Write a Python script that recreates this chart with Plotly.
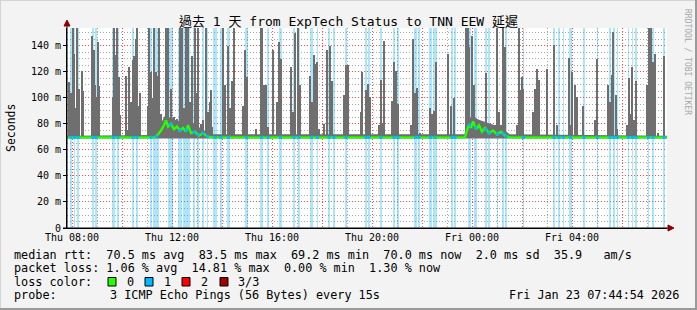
import numpy as np
import pandas as pd
import plotly.graph_objects as go

T0 = pd.Timestamp("2026-01-22 00:00:00")   # Thu 00:00
X_START_H, X_END_H = 7.8, 31.8               # Thu 07:48 -> Fri 07:48
Y_TOP = 153.8                                 # ms

# ---- smoke spikes: hour since Thu 00:00, max rtt (ms) ----
spike_h = [7.90, 7.96, 8.06, 8.10, 8.16, 8.22, 8.28, 8.40, 8.44, 8.82, 8.88, 8.94, 9.00, 9.04, 9.08,
           9.64, 9.68, 9.76, 9.82, 9.88, 9.94, 10.18, 10.24, 10.30, 10.36, 10.44, 10.50, 10.56, 10.62,
           10.68, 10.74, 11.04, 11.10, 11.16, 11.24, 11.30, 11.36, 11.44, 11.50, 11.56, 11.64, 11.78,
           11.86, 11.96, 12.08, 12.20, 12.32, 12.40, 12.48, 12.56, 12.64, 12.72, 12.80, 12.92, 13.00,
           13.06, 13.16, 13.24, 13.36, 13.44, 13.52, 13.56, 13.60, 14.06, 14.14, 14.24, 14.32, 14.40,
           14.50, 14.84, 14.92, 15.00, 15.36, 15.56, 15.62, 15.70, 15.78, 15.84, 16.06, 16.20, 16.28,
           16.36, 16.76, 16.84, 16.92, 17.04, 17.12, 17.52, 17.60, 17.68, 17.76, 17.82, 17.88, 18.08,
           18.22, 18.32, 18.40, 18.88, 18.96, 19.04, 19.56, 19.60, 19.76, 19.84, 19.92, 20.28, 20.36,
           20.44, 20.50, 20.82, 20.90, 20.98, 21.04, 21.56, 21.64, 21.74, 21.82, 21.92, 22.32, 22.40,
           22.48, 22.56, 23.06, 23.16, 23.28, 23.78, 23.84, 23.90, 24.00, 24.08, 24.54, 24.58, 24.92,
           25.02, 25.08, 25.16, 25.24, 25.32, 25.80, 25.88, 25.94, 26.00, 26.06, 26.44, 26.52, 26.60,
           26.68, 27.00, 27.28, 27.40, 27.88, 27.98, 28.02, 28.12, 28.20, 28.46, 28.92, 29.02, 29.46,
           29.52, 29.60, 29.66, 29.76, 29.82, 30.20, 30.28, 30.36, 30.42, 30.48, 30.56, 31.02, 31.06,
           31.10, 31.16, 31.24, 31.34, 31.44, 31.70]
spike_ms = [112, 104, 200, 134, 92, 200, 107, 121, 105, 148, 137, 110, 101, 143, 109,
            101, 200, 133, 200, 116, 87, 117, 75, 124, 97, 129, 132, 145, 200,
            94, 104, 94, 200, 120, 100, 200, 120, 117, 200, 88, 80, 200,
            200, 107, 85, 84, 200, 200, 92, 200, 200, 97, 132, 200, 104,
            200, 80, 83, 200, 89, 97, 106, 78, 200, 110, 140, 92, 113,
            200, 94, 137, 116, 76, 200, 200, 110, 110, 78, 137, 97, 143,
            130, 124, 89, 150, 200, 110, 117, 97, 133, 126, 128, 76, 80,
            137, 140, 113, 102, 125, 125, 89, 120, 106, 111, 101, 79, 114,
            80, 144, 98, 128, 121, 95, 79, 145, 104, 108, 73, 92, 88,
            90, 128, 134, 94, 100, 200, 200, 139, 148, 110, 79, 119, 79,
            200, 89, 79, 200, 139, 79, 200, 106, 116, 107, 89, 107, 122,
            114, 122, 141, 79, 131, 79, 120, 110, 101, 94, 83, 130, 110,
            97, 118, 151, 102, 76, 79, 115, 88, 124, 83, 113, 110, 95,
            200, 200, 128, 134, 73, 132]

# ---- periods with 1 lost packet (hour since Thu 00:00) ----
loss_start_h = [7.92, 8.08, 8.20, 8.80, 8.92, 9.60, 9.80, 10.40, 10.56, 11.12, 11.24, 11.84, 12.24,
                12.44, 12.84, 13.00, 13.20, 13.40, 13.64, 13.92, 14.20, 14.92, 15.52, 15.80, 16.28,
                16.84, 17.04, 17.52, 17.80, 18.24, 18.44, 18.92, 19.72, 19.84, 20.32, 20.84, 21.00,
                21.68, 21.84, 22.28, 22.44, 23.16, 23.28, 23.84, 24.08, 24.52, 24.64, 25.00, 25.20,
                25.32, 26.04, 27.24, 27.44, 27.64, 27.88, 28.44, 29.00, 29.48, 29.64, 29.80, 30.24,
                30.40, 30.52, 31.04, 31.20, 31.64]
loss_end_h = [8.00, 8.12, 8.28, 8.88, 9.00, 9.72, 9.88, 10.48, 10.64, 11.20, 11.48, 12.04, 12.40,
              12.72, 12.92, 13.08, 13.28, 13.44, 13.80, 14.00, 14.32, 15.04, 15.64, 15.88, 16.40,
              16.92, 17.12, 17.64, 17.84, 18.32, 18.52, 19.00, 19.80, 19.92, 20.40, 20.92, 21.08,
              21.80, 21.92, 22.40, 22.60, 23.24, 23.36, 23.96, 24.20, 24.60, 24.72, 25.04, 25.28,
              25.40, 26.08, 27.32, 27.52, 27.68, 28.00, 28.52, 29.04, 29.56, 29.72, 29.84, 30.28,
              30.44, 30.60, 31.08, 31.28, 31.72]

# ---- median rtt line ----
median_h = [7.80, 11.32, 11.44, 11.56, 11.68, 11.76, 11.84, 11.96, 12.08, 12.20, 12.32, 12.44, 12.56,
            12.64, 12.76, 12.92, 13.08, 13.24, 13.40, 13.60, 23.72, 23.80, 23.88, 23.96, 24.04, 24.16,
            24.28, 24.40, 24.52, 24.68, 24.84, 25.00, 25.16, 25.32, 25.52, 31.80]
median_ms = [69.7, 69.7, 72, 75, 79, 83, 78, 80, 76, 78, 75, 77, 74,
             79, 73, 74, 71, 73, 70.5, 69.7, 69.7, 74, 80, 77, 82, 76,
             79, 74, 77, 73, 75, 72, 74, 71, 69.7, 69.7]

# ---- low smoke envelope ----
smoke_env_h = [7.80, 11.30, 11.50, 11.70, 12.00, 12.30, 12.60, 12.90, 13.20, 13.60, 23.70, 23.85,
               24.00, 24.30, 24.60, 24.90, 25.20, 25.50, 31.80]
smoke_env_ms = [71, 71.5, 78, 86, 84, 82, 84, 80, 76, 72, 72, 84, 86, 83, 81, 79, 77, 72, 71]

x_tick_h = [8, 10, 12, 14, 16, 18, 20, 22, 24, 26, 28, 30]
x_tick_text = ["Thu 08:00", "", "Thu 12:00", "", "Thu 16:00", "", "Thu 20:00", "",
               "Fri 00:00", "", "Fri 04:00", ""]
x_minor_h = [9, 11, 13, 15, 17, 19, 21, 23, 25, 27, 29, 31]
y_tick_ms = [0, 20, 40, 60, 80, 100, 120, 140]
y_tick_text = ["0", "20 m", "40 m", "60 m", "80 m", "100 m", "120 m", "140 m"]
y_minor_ms = [5, 10, 15, 25, 30, 35, 45, 50, 55, 65, 70, 75, 85, 90, 95,
              105, 110, 115, 125, 130, 135, 145, 150]

legend_lines = [
    "median rtt:  70.5 ms avg  83.5 ms max  69.2 ms min  70.0 ms now  2.0 ms sd  35.9   am/s",
    "packet loss: 1.06 % avg  14.81 % max  0.00 % min  1.30 % now",
]
loss_labels = ["0", "1", "2", "3/3"]
loss_colors = ["#26ff00", "#00b8ff", "#ff0000", "#a00000"]
probe_text = "3 ICMP Echo Pings (56 Bytes) every 15s"
stamp_text = "Fri Jan 23 07:44:54 2026"
title_text = "過去 1 天 from ExpTech Status to TNN EEW 延遲"

# ---------------------------------------------------------------
W, H = 697, 310
L, R, T, B = 67, 30, 28, 82
PW, PH = W - L - R, H - T - B
MONO = "DejaVu Sans Mono, Noto Sans CJK TC, monospace"
DOT = "1px,2px"
MAJOR_GRID = "#ff4a4a"
MINOR_GRID = "#a8a8a8"


def dt(hs):
    return [T0 + pd.Timedelta(hours=float(h)) for h in hs]


def px(x):   # pixel x -> paper
    return (x - L) / PW


def py(y):   # pixel y -> paper
    return (T + PH - y) / PH


HOUR_MS = 3600 * 1000
fig = go.Figure()

# loss bands
ls = np.array(loss_start_h)
le = np.array(loss_end_h)
fig.add_trace(go.Bar(x=dt((ls + le) / 2), y=[Y_TOP] * len(ls), base=0,
                     width=list((le - ls) * HOUR_MS),
                     marker=dict(color="rgba(0,178,240,0.32)", line=dict(width=0)),
                     hoverinfo="skip", showlegend=False))

# low smoke envelope
fig.add_trace(go.Scatter(x=dt(smoke_env_h), y=[68.8] * len(smoke_env_h), mode="lines",
                         line=dict(width=0), showlegend=False, hoverinfo="skip"))
fig.add_trace(go.Scatter(x=dt(smoke_env_h), y=smoke_env_ms, mode="lines", fill="tonexty",
                         fillcolor="#6f6f6f", line=dict(width=0), showlegend=False,
                         hoverinfo="skip"))

# smoke spikes
BASE = 69.0
fig.add_trace(go.Bar(x=dt(spike_h), y=[v - BASE for v in spike_ms], base=BASE,
                     width=0.07 * HOUR_MS,
                     marker=dict(color="#6f6f6f", line=dict(width=0)),
                     hoverinfo="skip", showlegend=False))

# median line (dark trace under the loss-coloured median)
fig.add_trace(go.Scatter(x=dt(median_h), y=median_ms, mode="lines",
                         line=dict(color="#1a1a1a", width=1.2), showlegend=False,
                         hoverinfo="skip"))
fig.add_trace(go.Scatter(x=dt(median_h), y=median_ms, mode="lines",
                         line=dict(color="#26ff00", width=2.4), showlegend=False,
                         hoverinfo="skip"))
lc = (ls + le) / 2
fig.add_trace(go.Scatter(x=dt(lc), y=np.interp(lc, median_h, median_ms), mode="markers",
                         marker=dict(color="#00b8ff", size=3, symbol="square"),
                         showlegend=False, hoverinfo="skip"))

fig.update_layout(
    width=W, height=H, autosize=False,
    margin=dict(l=L, r=R, t=T, b=B, pad=0),
    paper_bgcolor="#f3f3f3", plot_bgcolor="#ffffff",
    barmode="overlay", bargap=0,
    showlegend=False,
    font=dict(family=MONO, size=10, color="#000000"),
    title=dict(text=title_text, x=0.5, xref="container", xanchor="center",
               y=1 - 21 / H, yref="container", yanchor="middle",
               font=dict(family=MONO, size=13, color="#000000")),
)

fig.update_xaxes(
    type="date", range=dt([X_START_H, X_END_H]),
    tickmode="array", tickvals=dt(x_tick_h), ticktext=x_tick_text,
    tickfont=dict(family=MONO, size=10, color="#000000"),
    showgrid=True, gridcolor=MAJOR_GRID, griddash=DOT, gridwidth=1,
    minor=dict(tickmode="array", tickvals=dt(x_minor_h), showgrid=True, gridcolor=MINOR_GRID,
               griddash=DOT, gridwidth=1, ticks=""),
    showline=True, linecolor="#000000", linewidth=1, ticks="", zeroline=False,
    fixedrange=True,
)
fig.update_yaxes(
    range=[0, Y_TOP],
    tickmode="array", tickvals=y_tick_ms, ticktext=y_tick_text,
    tickfont=dict(family=MONO, size=10, color="#000000"),
    showgrid=True, gridcolor=MAJOR_GRID, griddash=DOT, gridwidth=1,
    minor=dict(tickmode="array", tickvals=y_minor_ms, showgrid=True, gridcolor=MINOR_GRID,
               griddash=DOT, gridwidth=1, ticks=""),
    showline=True, linecolor="#000000", linewidth=1,
    ticks="outside", ticklen=3, tickcolor="#000000", zeroline=False,
    fixedrange=True,
)

shapes = []
# axis extensions and arrows
shapes.append(dict(type="line", xref="paper", yref="paper", x0=px(67), x1=px(67),
                   y0=py(228), y1=py(25), line=dict(color="#000000", width=1)))
shapes.append(dict(type="line", xref="paper", yref="paper", x0=px(63), x1=px(669),
                   y0=py(228), y1=py(228), line=dict(color="#000000", width=1)))
shapes.append(dict(type="path", xref="paper", yref="paper",
                   path=f"M {px(668)},{py(225)} L {px(674)},{py(228)} L {px(668)},{py(231)} Z",
                   fillcolor="#8b0000", line=dict(color="#8b0000", width=1)))
shapes.append(dict(type="path", xref="paper", yref="paper",
                   path=f"M {px(64)},{py(26)} L {px(67)},{py(20)} L {px(70)},{py(26)} Z",
                   fillcolor="#8b0000", line=dict(color="#8b0000", width=1)))
# outer frame
shapes.append(dict(type="line", xref="paper", yref="paper", x0=px(0), x1=px(697),
                   y0=py(0.5), y1=py(0.5), line=dict(color="#d4d4d4", width=1)))
shapes.append(dict(type="line", xref="paper", yref="paper", x0=px(0.5), x1=px(0.5),
                   y0=py(0), y1=py(310), line=dict(color="#d4d4d4", width=1)))
shapes.append(dict(type="line", xref="paper", yref="paper", x0=px(0), x1=px(697),
                   y0=py(309), y1=py(309), line=dict(color="#9a9a9a", width=2)))
shapes.append(dict(type="line", xref="paper", yref="paper", x0=px(696), x1=px(696),
                   y0=py(0), y1=py(310), line=dict(color="#9a9a9a", width=2)))

annotations = []
# y axis title
annotations.append(dict(text="Seconds", xref="paper", yref="paper", x=px(11), y=0.5,
                        textangle=-90, showarrow=False, xanchor="center", yanchor="middle",
                        font=dict(family=MONO, size=11.5, color="#000000")))
# watermark
annotations.append(dict(text="RRDTOOL / TOBI OETIKER", xref="paper", yref="paper",
                        x=px(688), y=py(62), textangle=90, showarrow=False,
                        xanchor="center", yanchor="middle",
                        font=dict(family=MONO, size=8, color="#a8a8a8")))

NB = "\u00a0"
LEG_FONT = dict(family=MONO, size=11.8, color="#000000")
for i, line in enumerate(legend_lines):
    annotations.append(dict(text=line.replace(" ", NB), xref="paper", yref="paper",
                            x=px(12), y=py([254.5, 268][i]), showarrow=False,
                            xanchor="left", yanchor="middle", font=LEG_FONT))
annotations.append(dict(text="loss" + NB + "color:", xref="paper", yref="paper",
                        x=px(12), y=py(281.5), showarrow=False, xanchor="left",
                        yanchor="middle", font=LEG_FONT))
box_x = [108, 145, 182, 220]
lab_x = [125, 162, 199, 236]
for bx, lx, lab, col in zip(box_x, lab_x, loss_labels, loss_colors):
    shapes.append(dict(type="rect", xref="paper", yref="paper", x0=px(bx), x1=px(bx + 8),
                       y0=py(277.5), y1=py(286), fillcolor=col,
                       line=dict(color="#000000", width=1)))
    annotations.append(dict(text=lab, xref="paper", yref="paper", x=px(lx), y=py(281.5),
                            showarrow=False, xanchor="left", yanchor="middle", font=LEG_FONT))
annotations.append(dict(text="probe:", xref="paper", yref="paper", x=px(12), y=py(295),
                        showarrow=False, xanchor="left", yanchor="middle", font=LEG_FONT))
annotations.append(dict(text=probe_text.replace(" ", NB), xref="paper", yref="paper",
                        x=px(108), y=py(295), showarrow=False, xanchor="left",
                        yanchor="middle", font=LEG_FONT))
annotations.append(dict(text=stamp_text.replace(" ", NB), xref="paper", yref="paper",
                        x=px(681), y=py(295), showarrow=False, xanchor="right",
                        yanchor="middle", font=LEG_FONT))

fig.update_layout(shapes=shapes, annotations=annotations)
fig.write_html("out.html")
